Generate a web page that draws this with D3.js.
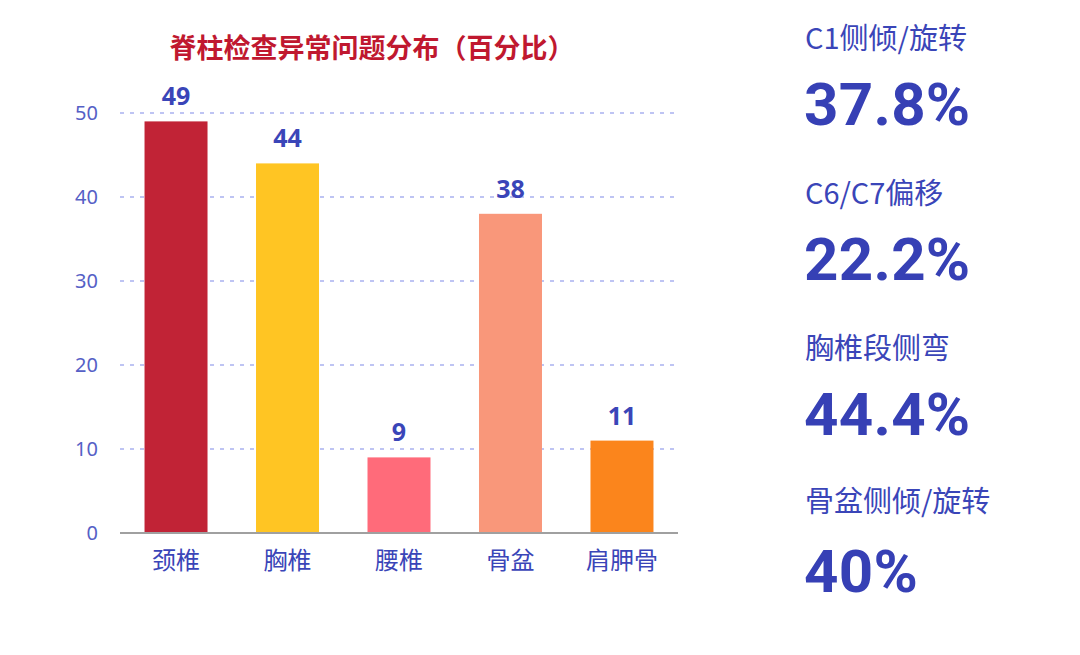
<!DOCTYPE html>
<html>
<head>
<meta charset="utf-8">
<script src="https://cdn.jsdelivr.net/npm/d3@7"></script>
<style>
  body { margin: 0; background: #fff; }
  svg { display: block; }
</style>
</head>
<body>
<div id="container"></div>
<script>
// chart data
var categories = ["颈椎", "胸椎", "腰椎", "骨盆", "肩胛骨"];
var values = [49, 44, 9, 38, 11];
var yTicks = [0, 10, 20, 30, 40, 50];
var barColors = ["#c12336", "#ffc523", "#ff6b7a", "#f9977a", "#fb851c"];

// right-hand summary figures
var statLabels = ["C1侧倾/旋转", "C6/C7偏移", "胸椎段侧弯", "骨盆侧倾/旋转"];
var statValues = ["37.8%", "22.2%", "44.4%", "40%"];

var width = 1080,
    height = 655;

var blue = "#3a45b8";
var cjk = "'Noto Sans CJK SC', 'Noto Sans', sans-serif";

var svg = d3.select("#container")
    .append("svg")
    .attr("width", width)
    .attr("height", height);

var x = d3.scaleBand()
    .domain(categories)
    .range([120, 678])
    .paddingInner(0.435)
    .paddingOuter(0.22);

var y = d3.scaleLinear()
    .domain([0, 50])
    .range([533, 113]);

// title
svg.append("text")
    .attr("x", 372)
    .attr("y", 58)
    .attr("text-anchor", "middle")
    .style("font-family", cjk)
    .style("font-weight", "bold")
    .style("font-size", "27px")
    .style("fill", "#c0182f")
    .text("脊柱检查异常问题分布（百分比）");

// dashed grid lines
svg.append("g")
    .selectAll("line")
    .data(yTicks.filter(d => d > 0))
    .enter().append("line")
    .attr("x1", 120)
    .attr("x2", 678)
    .attr("y1", d => y(d))
    .attr("y2", d => y(d))
    .style("stroke", "#a9b1f0")
    .style("stroke-width", 1.5)
    .style("stroke-dasharray", "4,6");

// y axis labels
var yAxis = d3.axisLeft(y)
    .tickValues(yTicks)
    .tickSize(0)
    .tickPadding(0);

var yg = svg.append("g")
    .attr("transform", "translate(98,0)")
    .call(yAxis);
yg.select(".domain").remove();
yg.selectAll("text")
    .style("font-family", "'Noto Sans', sans-serif")
    .style("font-size", "20px")
    .style("fill", "#5560c6");

// bars
svg.append("g")
    .selectAll("rect")
    .data(values)
    .enter().append("rect")
    .attr("x", (d, i) => x(categories[i]))
    .attr("y", d => y(d))
    .attr("width", x.bandwidth())
    .attr("height", d => y(0) - y(d))
    .style("fill", (d, i) => barColors[i]);

// baseline
svg.append("line")
    .attr("x1", 120)
    .attr("x2", 678)
    .attr("y1", y(0))
    .attr("y2", y(0))
    .style("stroke", "#a0a0a0")
    .style("stroke-width", 2);

// value labels
svg.append("g")
    .selectAll("text")
    .data(values)
    .enter().append("text")
    .attr("x", (d, i) => x(categories[i]) + x.bandwidth() / 2)
    .attr("y", d => y(d) - 16)
    .attr("text-anchor", "middle")
    .style("font-family", "'Noto Sans', sans-serif")
    .style("font-weight", "bold")
    .style("font-size", "25px")
    .style("fill", blue)
    .text(d => d);

// x axis labels
var xAxis = d3.axisBottom(x).tickSize(0).tickPadding(0);
var xg = svg.append("g")
    .attr("transform", "translate(0,569)")
    .call(xAxis);
xg.select(".domain").remove();
xg.selectAll("text")
    .attr("dy", 0)
    .style("font-family", cjk)
    .style("font-size", "24px")
    .style("fill", blue);

// summary figures on the right
var statLabelY = [49, 204, 359, 512];
var statValueY = [125, 280, 435, 592];

var stats = svg.append("g");
stats.selectAll(".stat-label")
    .data(statLabels)
    .enter().append("text")
    .attr("class", "stat-label")
    .attr("x", 805)
    .attr("y", (d, i) => statLabelY[i])
    .style("font-family", cjk)
    .style("font-size", "29px")
    .style("fill", blue)
    .text(d => d);

stats.selectAll(".stat-value")
    .data(statValues)
    .enter().append("text")
    .attr("class", "stat-value")
    .attr("x", 804)
    .attr("y", (d, i) => statValueY[i])
    .style("font-family", "Roboto, 'Liberation Sans', sans-serif")
    .style("font-weight", "bold")
    .style("font-size", "60px")
    .style("letter-spacing", "0.3px")
    .style("fill", "#3640b5")
    .text(d => d);
</script>
</body>
</html>
